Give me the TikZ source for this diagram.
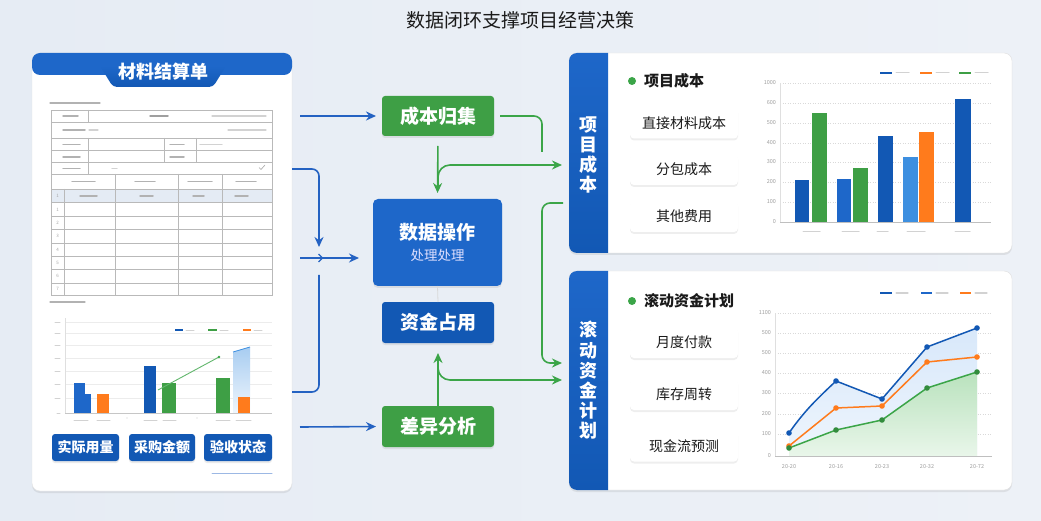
\documentclass[tikz,border=0pt]{standalone}
\usepackage{fontspec}
\setmainfont{Noto Sans CJK SC}
\usetikzlibrary{shadows,arrows.meta}
\definecolor{bgc}{HTML}{EDF1F7}
\definecolor{bgd}{HTML}{E6ECF4}
\definecolor{dblue}{HTML}{1258B4}
\definecolor{mblue}{HTML}{1E67C9}
\definecolor{lblue}{HTML}{3D8FE0}
\definecolor{cgreen}{HTML}{3E9F45}
\definecolor{agreen}{HTML}{3BA548}
\definecolor{corange}{HTML}{FF7B1C}
\definecolor{ablue}{HTML}{2462C2}
\definecolor{txt}{HTML}{1A1A1A}
\definecolor{hdr}{HTML}{E4EBF4}
\definecolor{areab1}{HTML}{D8E8FA}
\definecolor{areab2}{HTML}{EEF5FD}
\definecolor{areag1}{HTML}{B9E2BD}
\definecolor{areag2}{HTML}{E9F6EA}
\newcommand{\myfs}[1]{\fontsize{#1}{#1}\selectfont}
\begin{document}
\begin{tikzpicture}[x=1pt,y=-1pt,
  every node/.style={inner sep=0pt, outer sep=0pt},
  scrib/.style={line width=1.5pt, draw=gray!60, line cap=round},
  lscrib/.style={line width=1.2pt, draw=gray!35, line cap=round},
  tline/.style={draw=gray!55, line width=0.5pt},
  grid/.style={draw=gray!30, line width=0.5pt, dotted},
  barrow/.style={draw=ablue, line width=1.6pt, -{Stealth[length=10pt,width=9pt]}},
  bline/.style={draw=ablue, line width=1.6pt},
  garrow/.style={draw=agreen, line width=1.6pt, -{Stealth[length=10pt,width=9pt]}},
  gline/.style={draw=agreen, line width=1.6pt},
  shd/.style={drop shadow={opacity=0.16, shadow xshift=0pt, shadow yshift=-2pt}},
  gbox/.style={fill=cgreen, rounded corners=3pt, text=white, font=\bfseries\myfs{19}, minimum width=112pt, minimum height=40pt, shd},
  bbox/.style={fill=dblue, rounded corners=3pt, text=white, font=\bfseries\myfs{19}, minimum width=112pt, minimum height=41pt, shd},
  btn/.style={fill=dblue, rounded corners=3pt, text=white, font=\bfseries\myfs{14}, minimum height=27pt, shd},
  card/.style={fill=white, rounded corners=4pt, text=txt, font=\myfs{14}, minimum width=108pt, minimum height=31pt, drop shadow={opacity=0.13, shadow xshift=0pt, shadow yshift=-2pt}},
  tick/.style={font=\myfs{5.5}, text=gray!75, anchor=east},
  rown/.style={font=\myfs{4.5}, text=gray!70}
]
% background
\shade[left color=bgd, right color=bgc] (0,0) rectangle (1041,521);
\useasboundingbox (0,0) rectangle (1041,521);

% title
\node[font=\myfs{19}, text=txt] (title) at (520,20) {数据闭环支撑项目经营决策};

% ---------------- left panel ----------------
\path[fill=white, draw=gray!20, rounded corners=8pt, shd] (32,53) rectangle (292,491);
\fill[mblue, rounded corners=8pt] (32,53) rectangle (292,75);
\fill[mblue] (32,62) rectangle (292,68);
\shade[top color=mblue, bottom color=dblue, rounded corners=4pt] (100,66) -- (226,66) -- (213,87) -- (113,87) -- cycle;
\node[font=\bfseries\myfs{18}, text=white] (mtitle) at (163,72) {材料结算单};

% table
\draw[scrib, line width=1.2pt] (50,103) -- (100,103);
\fill[hdr] (51,189) rectangle (272,202.7);
\draw[tline] (51,110) rectangle (272,295);
\foreach \yy in {122.7,138,150.7,162.7,174,189,202.7,216,229,243,256,269,283}
  \draw[tline] (51,\yy) -- (272,\yy);
\draw[tline] (88,110) -- (88,122.7);
\draw[tline] (88,138) -- (88,174);
\draw[tline] (164,138) -- (164,162.7);
\draw[tline] (196,138) -- (196,162.7);
\foreach \xx in {115.7,178,222} \draw[tline] (\xx,174) -- (\xx,295);
\draw[tline] (64,189) -- (64,295);
% table text (blurred in reference)
\draw[scrib] (63,116) -- (78,116);
\draw[scrib, draw=gray!75] (150,116) -- (168,116);
\draw[lscrib] (212,116) -- (266,116);
\draw[scrib] (63,130) -- (85,130);
\draw[lscrib] (89,130) -- (98,130);
\draw[lscrib] (228,130) -- (266,130);
\draw[scrib] (63,144.5) -- (80,144.5);
\draw[scrib] (170,144.5) -- (184,144.5);
\draw[lscrib] (200,144.5) -- (222,144.5);
\draw[scrib] (63,156.8) -- (80,156.8);
\draw[scrib] (170,156.8) -- (184,156.8);
\draw[scrib] (63,168.3) -- (80,168.3);
\draw[lscrib] (112,168.3) -- (117,168.3);
\draw[gray!70, line width=0.6pt] (259,167.5) -- (261,169.5) -- (265,165);
\draw[scrib] (72,181.5) -- (95,181.5);
\draw[scrib] (135,181.5) -- (155,181.5);
\draw[scrib] (188,181.5) -- (212,181.5);
\draw[scrib] (236,181.5) -- (256,181.5);
\draw[scrib] (80,196) -- (97,196);
\draw[scrib] (140,196) -- (153,196);
\draw[scrib] (193,196) -- (204,196);
\draw[scrib] (235,196) -- (248,196);
\node[rown] (r0) at (57.5,196) {1};
\foreach \n/\yy in {1/209.4,2/222.5,3/236,4/249.5,5/262.5,6/276,7/289}
  \node[rown] (r\n) at (57.5,\yy) {\n};
\draw[scrib, line width=1.2pt] (50,302) -- (85,302);

% left chart
\foreach \yy in {322,333,345,358,371,384,398}
  {\draw[gray!15, line width=0.5pt] (65,\yy) -- (272,\yy);
   \draw[lscrib, line width=1pt] (55,\yy) -- (60,\yy);}
\draw[lscrib, line width=1pt] (57,413) -- (60,413);
\draw[gray!25, line width=0.5pt] (65,318) -- (65,413);
\fill[mblue] (74,383) rectangle (85,413);
\fill[mblue] (85,394) rectangle (91,413);
\fill[corange] (97,394) rectangle (109,413);
\fill[dblue] (144,366) rectangle (156,413);
\fill[cgreen] (162,383) rectangle (176,413);
\fill[cgreen] (216,378) rectangle (230,413);
\shade[top color=lblue!45, bottom color=lblue!8] (233,352) -- (250,347) -- (250,413) -- (233,413) -- cycle;
\draw[lblue, line width=0.8pt] (233,352) -- (250,347);
\fill[corange] (238,397) rectangle (250,413);
\draw[agreen!80, line width=0.9pt] (158,390) -- (219,357);
\fill[agreen] (219,357) circle (1.4);
\draw[gray!45, line width=0.8pt] (65,413) -- (272,413);
\draw[dblue, line width=2pt] (175,330) -- (183,330);
\draw[lscrib, line width=1pt] (186,330) -- (194,330);
\draw[cgreen, line width=2pt] (208,330) -- (217,330);
\draw[lscrib, line width=1pt] (220,330) -- (228,330);
\draw[corange, line width=2pt] (243,330) -- (251,330);
\draw[lscrib, line width=1pt] (254,330) -- (262,330);
\foreach \a/\b in {74/88,97/110,144/157,163/176,216/230,236/251}
  \draw[lscrib, line width=1pt] (\a,420) -- (\b,420);
\fill[gray!40] (127,418) circle (0.6);
\fill[gray!40] (197,418) circle (0.6);

% buttons
\node[btn, minimum width=67pt] (btn1) at (85.5,447.5) {实际用量};
\node[btn, minimum width=66pt] (btn2) at (162,447.5) {采购金额};
\node[btn, minimum width=68pt] (btn3) at (238,447.5) {验收状态};
\draw[line width=1pt, draw=ablue!45, line cap=round] (212,473) -- (272,473);

% ---------------- middle ----------------
\node[gbox] (cbj) at (438,116) {成本归集};
\node[fill=mblue, rounded corners=5pt, minimum width=129pt, minimum height=87pt, align=center, text=white, shd] (data) at (437.5,242.5)
  {{\bfseries\myfs{19}数据操作}\\[7pt]{\myfs{13.5}\color{white!88!blue}处理处理}};
\node[bbox] (zjzy) at (438,322.5) {资金占用};
\node[gbox, minimum height=41pt] (cyfx) at (438,426.5) {差异分析};
\draw[gray!30, line width=0.8pt] (data.south) -- (zjzy.north);

% blue connectors from the left panel
\coordinate (lt) at (292,169);
\coordinate (lj) at (319,247);
\coordinate (lb) at (292,392);
\coordinate (lk) at (319,275);
\draw[barrow, shorten >=6pt] (300,116) -- (cbj.west);
\draw[barrow, rounded corners=7pt] (lt) -- (319,169) -- (lj);
\draw[barrow, shorten >=14pt] (300,258) -- (data.west |- 0,258);
\draw[ablue, line width=1.2pt] (318.5,254) -- (322.5,258) -- (318.5,262);
\draw[bline, rounded corners=7pt] (lb) -- (319,392) -- (lk);
\draw[barrow, shorten >=6pt] (300,427) -- (cyfx.west);

% right panels (frames)
\path[fill=white, draw=gray!25, rounded corners=8pt, shd] (569,53) rectangle (1012,253);
\path[fill=white, draw=gray!25, rounded corners=8pt, shd] (569,271) rectangle (1012,490);
\begin{scope}
  \clip[rounded corners=8pt] (569,53) rectangle (1012,253);
  \shade[top color=mblue, bottom color=dblue] (569,53) rectangle (608,253);
\end{scope}
\begin{scope}
  \clip[rounded corners=8pt] (569,271) rectangle (1012,490);
  \shade[top color=mblue, bottom color=dblue] (569,271) rectangle (608,490);
\end{scope}
\coordinate (p1a) at (562,165);
\coordinate (p1b) at (563,203);
\coordinate (p2a) at (562,363);
\coordinate (p2b) at (562,380);
\coordinate (gtop) at (542,152);

% green connectors
\draw[gline, rounded corners=8pt, shorten <=6pt] (cbj.east) -- (542,116) -- (gtop);
\draw[garrow, shorten <=10pt, shorten >=6pt] (cbj.south) -- (data.north);
\draw[garrow, rounded corners=12pt] (438,188) -- (438,165) -- (p1a);
\draw[garrow, rounded corners=8pt] (p1b) -- (542,203) -- (542,363) -- (p2a);
\draw[garrow, shorten >=10pt] (cyfx.north) -- (zjzy.south);
\draw[garrow, rounded corners=12pt] (438,360) -- (438,380) -- (p2b);

% ---------------- right top panel ----------------
\node[font=\bfseries\fontsize{18}{20.3}\selectfont, text=white, align=center] (side1) at (588.5,155) {项\\目\\成\\本};
\fill[agreen] (632,81) circle (4);
\node[anchor=west, font=\bfseries\myfs{15}, text=txt] (h1) at (644,81) {项目成本};
\node[card] (c1) at (684,123) {直接材料成本};
\node[card] (c2) at (684,169.5) {分包成本};
\node[card] (c3) at (684,216.5) {其他费用};
% bar chart
\foreach \yy/\lab [count=\i] in {83/1000,103/600,123/500,143/400,162/300,182/200,202/100}
  {\draw[grid] (780,\yy) -- (991,\yy);
   \node[tick] (ya\i) at (776,\yy) {\lab};}
\node[tick] (ya8) at (776,222) {0};
\draw[gray!25, line width=0.5pt] (780,83) -- (780,222);
\fill[dblue] (795,180) rectangle (809,222);
\fill[cgreen] (812,113) rectangle (827,222);
\fill[mblue] (837,179) rectangle (851,222);
\fill[cgreen] (853,168) rectangle (868,222);
\fill[dblue] (878,136) rectangle (893,222);
\fill[lblue] (903,157) rectangle (918,222);
\fill[corange] (919,132) rectangle (934,222);
\fill[dblue] (955,99) rectangle (971,222);
\draw[gray!50, line width=0.8pt] (780,222) -- (991,222);
\foreach \a/\b in {803/820,842/859,877/888,907/925,955/970}
  \draw[lscrib, line width=1pt] (\a,232) -- (\b,232);
\draw[dblue, line width=2.2pt] (880,73) -- (892,73);
\draw[lscrib, line width=1pt] (896,73) -- (909,73);
\draw[corange, line width=2.2pt] (920,73) -- (932,73);
\draw[lscrib, line width=1pt] (936,73) -- (949,73);
\draw[cgreen, line width=2.2pt] (959,73) -- (971,73);
\draw[lscrib, line width=1pt] (975,73) -- (988,73);

% ---------------- right bottom panel ----------------
\node[font=\bfseries\fontsize{18}{20.2}\selectfont, text=white, align=center] (side2) at (588.5,380.5) {滚\\动\\资\\金\\计\\划};
\fill[agreen] (632,301) circle (4);
\node[anchor=west, font=\bfseries\myfs{15}, text=txt] (h2) at (644,301) {滚动资金计划};
\node[card] (c4) at (684,342.5) {月度付款};
\node[card] (c5) at (684,394.5) {库存周转};
\node[card] (c6) at (684,446) {现金流预测};
% line chart
\foreach \yy/\lab [count=\i] in {313/1100,333/500,353/500,373/400,393/300,414/200,434/100}
  {\draw[grid] (775,\yy) -- (992,\yy);
   \node[tick] (yb\i) at (771,\yy) {\lab};}
\node[tick] (yb8) at (771,456) {0};
\draw[gray!25, line width=0.5pt] (775,313) -- (775,456);
\shade[top color=areab1, bottom color=areab2] (789,433) .. controls (805,410) and (818,398) .. (836,381) -- (882,399) -- (927,347) -- (977,328) -- (977,456) -- (789,456) -- cycle;
\shade[top color=areag1, bottom color=areag2] (789,448) -- (836,430) -- (882,420) -- (927,388) -- (977,372) -- (977,456) -- (789,456) -- cycle;
\draw[gray!50, line width=0.8pt] (775,456) -- (992,456);
\draw[dblue, line width=1.5pt] (789,433) .. controls (805,410) and (818,398) .. (836,381) -- (882,399) -- (927,347) -- (977,328);
\draw[corange, line width=1.5pt] (789,446) -- (836,408) -- (882,406) -- (927,362) -- (977,357);
\draw[agreen, line width=1.5pt] (789,448) -- (836,430) -- (882,420) -- (927,388) -- (977,372);
\foreach \xx/\yy in {789/433,836/381,882/399,927/347,977/328} \fill[dblue] (\xx,\yy) circle (2.8);
\foreach \xx/\yy in {789/446,836/408,882/406,927/362,977/357} \fill[corange] (\xx,\yy) circle (2.8);
\foreach \xx/\yy in {789/448,836/430,882/420,927/388,977/372} \fill[agreen!85!black] (\xx,\yy) circle (2.8);
\foreach \xx/\lab [count=\i] in {789/20-20,836/20-16,882/20-23,927/20-32,977/20-72}
  \node[font=\myfs{5.5}, text=gray!75] (xb\i) at (\xx,467) {\lab};
\draw[dblue, line width=2.2pt] (880,293) -- (892,293);
\draw[lscrib, line width=1pt] (896,293) -- (908,293);
\draw[mblue, line width=2.2pt] (921,293) -- (932,293);
\draw[lscrib, line width=1pt] (936,293) -- (948,293);
\draw[corange, line width=2.2pt] (960,293) -- (971,293);
\draw[lscrib, line width=1pt] (975,293) -- (987,293);
\end{tikzpicture}
\end{document}
